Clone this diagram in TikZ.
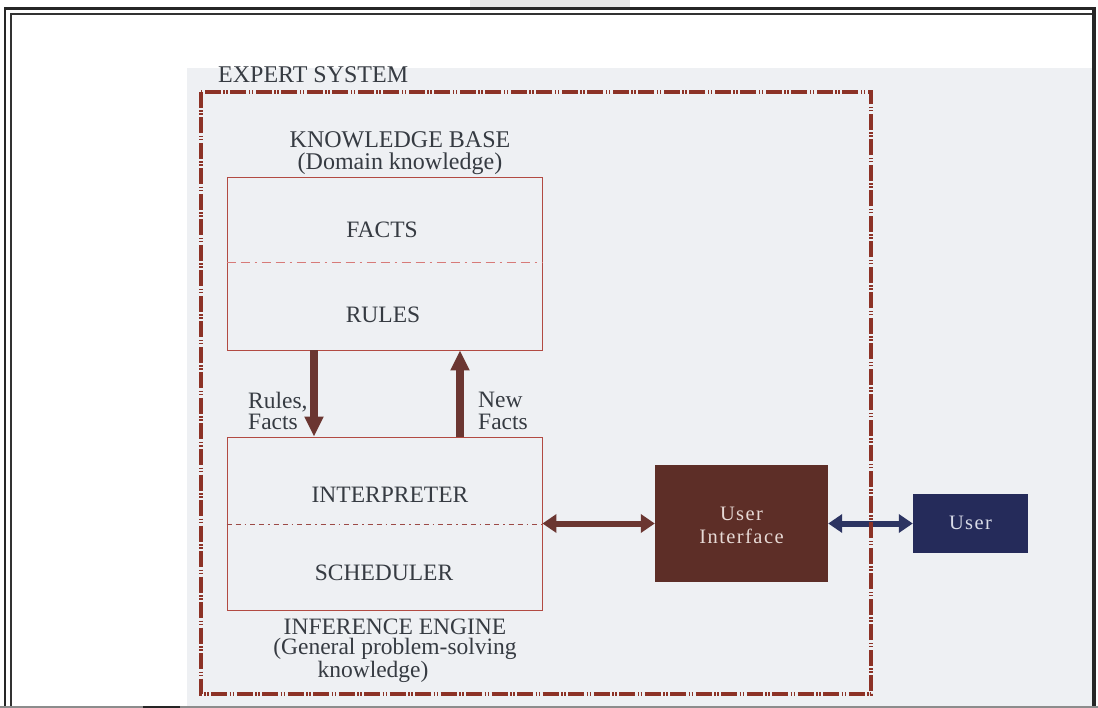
\documentclass[tikz,border=0pt]{standalone}
\usepackage{fontspec}
\setmainfont{Liberation Serif}
\usetikzlibrary{arrows.meta}

\definecolor{ink}{HTML}{363B42}
\definecolor{paper}{HTML}{EEF0F3}
\definecolor{sysframe}{HTML}{8C3226}
\definecolor{boxline}{HTML}{B24A42}
\definecolor{kbdivc}{HTML}{D77A78}
\definecolor{iedivc}{HTML}{9C4A46}
\definecolor{brownarrow}{HTML}{6B3631}
\definecolor{uifill}{HTML}{5D2E27}
\definecolor{userfill}{HTML}{252B5A}
\definecolor{navyarrow}{HTML}{2C3462}
\definecolor{uitext}{HTML}{E6D9D5}
\definecolor{usertext}{HTML}{D9DCE8}

\begin{document}
\begin{tikzpicture}[x=1pt,y=-1pt,
  txt/.style={text=ink, inner sep=0pt, font=\fontsize{23.5}{21}\selectfont},
  head/.style={text=ink, inner sep=0pt, font=\fontsize{24}{22}\selectfont},
  part/.style={draw=boxline, line width=0.9pt, inner sep=0pt},
  kbdiv/.style={draw=kbdivc, line width=1pt, dash pattern=on 9pt off 5pt on 9pt off 5pt on 2pt off 5pt},
  iediv/.style={draw=iedivc, line width=1pt, dash pattern=on 5pt off 4pt on 5pt off 4pt on 1.5pt off 4pt},
  flow/.style={draw=brownarrow, line width=8pt, -{Triangle[width=18pt,length=20pt]}},
  link/.style={line width=6pt, {Triangle[width=18pt,length=14pt]}-{Triangle[width=18pt,length=14pt]}},
  solid box/.style={inner sep=0pt, align=center,
    font=\fontsize{20.5}{23}\selectfont\addfontfeature{LetterSpace=7}},
  sysborder/.style={draw=sysframe, line width=4pt,
    dash pattern=on 16pt off 2.5pt on 1.5pt off 1.5pt on 1.5pt off 2.5pt}
]
\useasboundingbox (0,0) rectangle (1098,708);

% page and shaded panel
\fill[white] (0,0) rectangle (1098,708);
\fill[paper] (187,68) rectangle (1092,706);
\fill[black!10] (470,0) rectangle (630,7);

% page frame
\draw[black!85, line width=2.6pt] (5,708) -- (5,8.5) -- (1094,8.5);
\draw[black!85, line width=4.5pt] (1094,7.2) -- (1094,708);
\draw[black!80, line width=1.8pt] (10.8,708) -- (10.8,14) -- (1092,14);
\draw[black!45, line width=1.5pt] (0,707) -- (1098,707);
\draw[black!85, line width=2pt] (143,707) -- (180,707);

% knowledge base
\node[part, minimum width=315pt, minimum height=173pt] (kb) at (384.5,263.5) {};
\coordinate (kbsplit) at (0,263);
\draw[kbdiv] (kb.west |- kbsplit) -- (kb.east |- kbsplit);
\node[txt, anchor=base] (facts) at (382,238) {FACTS};
\node[txt, anchor=base] (rules) at (383,323) {RULES};
\node[head, anchor=base, align=center] (kbtitle) at (400,170) {KNOWLEDGE BASE\\(Domain knowledge)};

% inference engine
\node[part, minimum width=315pt, minimum height=173pt] (ie) at (384.5,523.5) {};
\coordinate (iesplit) at (0,524);
\draw[iediv] (ie.west |- iesplit) -- (ie.east |- iesplit);
\node[txt, anchor=base] (interp) at (390,502) {INTERPRETER};
\node[txt, anchor=base] (sched) at (384,580) {SCHEDULER};
\node[txt, anchor=base, align=center, font=\fontsize{23.5}{20.5}\selectfont] (ietitle) at (395,677)
  {INFERENCE ENGINE\\(General problem-solving\\knowledge)\kern44pt};

% exchange between knowledge base and inference engine
\coordinate (downx) at (314,0);
\coordinate (upx) at (460,0);
\draw[flow] (kb.south -| downx) -- (ie.north -| downx);
\draw[flow] (ie.north -| upx) -- (kb.south -| upx);
\node[txt, anchor=base west, align=left, font=\fontsize{23.5}{21}\selectfont] (rf) at (248,430) {Rules,\\Facts};
\node[txt, anchor=base west, align=left, font=\fontsize{23.5}{22}\selectfont] (nf) at (478,430) {New\\Facts};

% user interface and user
\node[solid box, fill=uifill, text=uitext, minimum width=173pt, minimum height=117pt] (ui) at (741.5,523.5)
  {\mbox{}\\[-6pt]User\\Interface};
\node[solid box, fill=userfill, text=usertext, minimum width=115pt, minimum height=59pt] (user) at (970.5,523) {User};
\draw[link, brownarrow] (ie.east) -- (ie.east -| ui.west);
\draw[link, navyarrow] (ui.east) -- (ui.east -| user.west);

% expert system boundary
\draw[sysborder] (201,92) rectangle (871,694);
\node[head, anchor=base west] (estitle) at (218,83) {EXPERT SYSTEM};
\end{tikzpicture}
\end{document}
